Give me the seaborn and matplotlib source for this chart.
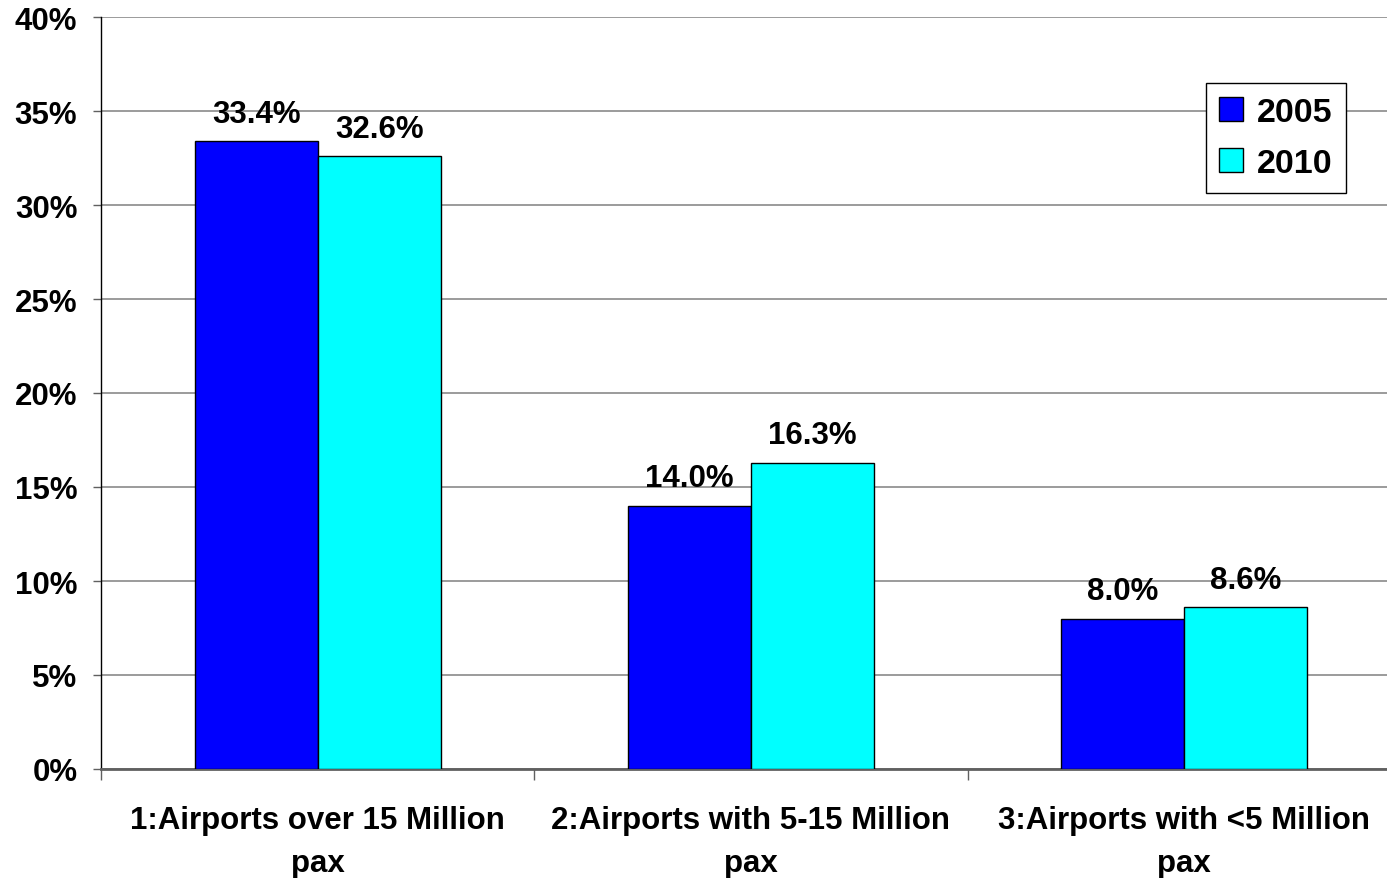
import matplotlib
matplotlib.use("Agg")
import matplotlib.pyplot as plt
import seaborn as sns
import pandas as pd
from matplotlib.ticker import FixedLocator, FuncFormatter
from matplotlib.patches import Patch

categories = ["1:Airports over 15 Million\npax",
              "2:Airports with 5-15 Million\npax",
              "3:Airports with <5 Million\npax"]
years = ["2005", "2010"]
values_2005 = [33.4, 14.0, 8.0]
values_2010 = [32.6, 16.3, 8.6]
colors = ["#0000FF", "#00FFFF"]

df = pd.DataFrame({
    "Category": categories * 2,
    "Year": [years[0]] * 3 + [years[1]] * 3,
    "Value": values_2005 + values_2010,
})

sns.set_style("white")
plt.rcParams['font.family'] = ['Liberation Sans', 'DejaVu Sans']
plt.rcParams['font.weight'] = 'bold'
plt.rcParams['text.color'] = 'black'
plt.rcParams['xtick.color'] = 'black'
plt.rcParams['ytick.color'] = 'black'
plt.rcParams['axes.labelcolor'] = 'black'

W, H = 1387, 879
fig = plt.figure(figsize=(W / 100, H / 100), dpi=100)
ax = fig.add_axes([101 / W, 109 / H, 1300 / W, 752 / H])

sns.barplot(data=df, x="Category", y="Value", hue="Year", palette=colors,
            width=0.568, edgecolor="black", linewidth=1.0, ax=ax,
            saturation=1, legend=False, zorder=3)

ax.set_ylim(0, 40)
ax.set_xlim(-0.5, 2.5)
ax.yaxis.set_major_locator(FixedLocator([0, 5, 10, 15, 20, 25, 30, 35, 40]))
ax.yaxis.set_major_formatter(FuncFormatter(lambda v, p: f"{v:.0f}%"))
ax.grid(axis="y", color="#808080", linewidth=1.1, zorder=0)
ax.set_axisbelow(True)

for s in ["top", "right"]:
    ax.spines[s].set_visible(False)
ax.spines["left"].set_color("black")
ax.spines["left"].set_linewidth(1.0)
ax.spines["bottom"].set_color("#606060")
ax.spines["bottom"].set_linewidth(2.0)

ax.tick_params(axis="y", which="major", left=True, length=6, width=1.0,
               color="#606060", labelcolor="black", pad=11, labelsize=22.5)
ax.set_xlabel("")
ax.set_ylabel("")
ax.xaxis.set_minor_locator(FixedLocator([-0.5, 0.5, 1.5]))
ax.tick_params(axis="x", which="major", length=0, pad=26, labelsize=22.5,
               labelcolor="black")
ax.tick_params(axis="x", which="minor", bottom=True, length=8, width=1.0,
               color="#606060")
for lbl in ax.get_xticklabels():
    lbl.set_fontweight("bold")
    lbl.set_linespacing(1.55)
for lbl in ax.get_yticklabels():
    lbl.set_fontweight("bold")

for cont in ax.containers:
    ax.bar_label(cont, fmt="%.1f%%", padding=9, fontsize=22.5, fontweight="bold",
                 color="black")

handles = [Patch(facecolor=c, edgecolor="black", linewidth=1.0) for c in colors]
leg = ax.legend(handles, years, loc="upper right",
                bbox_to_anchor=(1346 / W, 1 - 84 / H), bbox_transform=fig.transFigure,
                fancybox=False, frameon=True, edgecolor="black", framealpha=1,
                prop={"size": 24.5, "weight": "bold"},
                handlelength=0.7, handleheight=0.7, handletextpad=0.4,
                borderpad=0.4, labelspacing=0.6, borderaxespad=0)
leg.get_frame().set_linewidth(1.0)
for t in leg.get_texts():
    t.set_color("black")

fig.savefig("out.png", dpi=100)
